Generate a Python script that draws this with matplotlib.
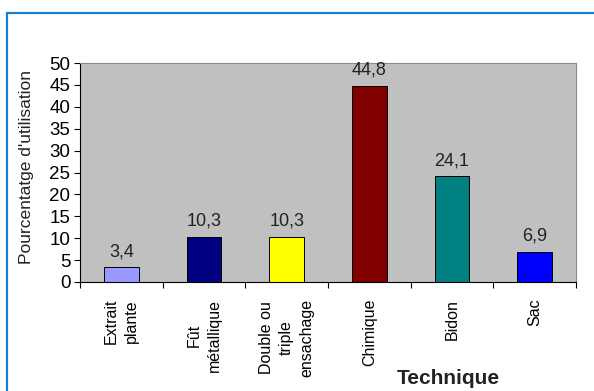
import matplotlib.pyplot as plt
from matplotlib.patches import Rectangle

# données du graphique
techniques = ["Extrait\nplante", "Fût\nmétallique", "Double ou\ntriple\nensachage",
              "Chimique", "Bidon", "Sac"]
valeurs = [3.4, 10.3, 10.3, 44.8, 24.1, 6.9]
couleurs = ["#9999ff", "#000080", "#ffff00", "#800000", "#008080", "#0000ff"]
y_ticks = [0, 5, 10, 15, 20, 25, 30, 35, 40, 45, 50]

plt.rcParams["font.family"] = ["Liberation Sans", "DejaVu Sans"]

fig = plt.figure(figsize=(5.94, 3.91), dpi=100)
ax = fig.add_axes([80 / 594, 1 - 282 / 391, 496 / 594, 219 / 391])

# cadre bleu autour du graphique
fig.patches.append(Rectangle((7 / 594, -0.05), 1.2, 1 - 13 / 391 + 0.05,
                             transform=fig.transFigure, fill=False,
                             edgecolor="#1a7fd4", linewidth=1.6))

ax.set_facecolor("#c0c0c0")
positions = [i + 0.5 for i in range(len(valeurs))]
barres = ax.bar(positions, valeurs, width=0.42, color=couleurs,
                edgecolor="black", linewidth=0.7)

for b, v in zip(barres, valeurs):
    ax.annotate(f"{v:.1f}".replace(".", ","),
                (b.get_x() + b.get_width() / 2, v),
                xytext=(0, 5), textcoords="offset points",
                ha="center", va="bottom", fontsize=13, color="#222222")

ax.set_xlim(0, 6)
ax.set_ylim(0, 50)
ax.set_yticks(y_ticks)
ax.tick_params(axis="y", labelsize=13.5, length=4, direction="out", pad=3)

# graduations aux limites des catégories, étiquettes au centre
ax.set_xticks(range(7))
ax.set_xticklabels([])
ax.tick_params(axis="x", which="major", length=4, direction="out")
ax.set_xticks(positions, minor=True)
ax.set_xticklabels(techniques, minor=True, rotation=90, fontsize=11.5,
                   va="top", ha="center", multialignment="center",
                   linespacing=1.45)
ax.tick_params(axis="x", which="minor", length=0, pad=12)

for s in ["top", "right"]:
    ax.spines[s].set_color("#8a8a8a")
for s in ["left", "bottom"]:
    ax.spines[s].set_color("black")

fig.text(27 / 594, 1 - 167 / 391, "Pourcentatge d'utilisation", fontsize=12.5,
         rotation=90, ha="center", va="center", color="#222222")

fig.text(448 / 594, 1 - 378 / 391, "Technique", fontsize=15,
         fontweight="bold", ha="center", va="center", color="#222222")

fig.savefig("out.png", dpi=100)
